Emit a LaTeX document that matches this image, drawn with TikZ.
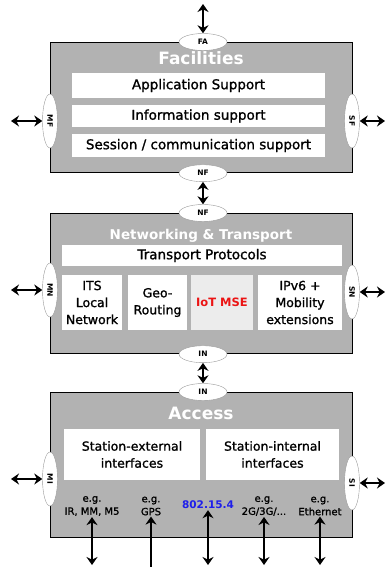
\documentclass[tikz,border=0pt]{standalone}
\usepackage{fontspec}
\setmainfont{DejaVu Sans}
\newfontfamily\boxfont{DejaVu Sans}[RawFeature={embolden=1.2}]
\usetikzlibrary{shapes.geometric, arrows.meta, positioning, calc}
\definecolor{layergray}{RGB}{178,178,178}
\definecolor{msegray}{RGB}{236,236,236}
\definecolor{iotred}{RGB}{235,20,20}
\definecolor{wpanblue}{RGB}{30,30,235}
\tikzset{
    layer/.style={draw=black, line width=1.2pt, fill=layergray, anchor=north west, minimum width=302pt},
    title/.style={text=white, font=\bfseries\fontsize{17}{17}\selectfont},
    sub/.style={fill=white, align=center, inner sep=0pt, font=\boxfont\fontsize{12.5}{17}\selectfont},
    sap/.style={ellipse, draw=black!40, thin, fill=white, inner sep=0pt, minimum width=48pt, minimum height=17pt, font=\bfseries\fontsize{7.5}{7.5}\selectfont},
    sapv/.style={sap, minimum width=15pt, minimum height=54pt},
    eglabel/.style={align=center, inner sep=1pt, font=\boxfont\fontsize{10}{13}\selectfont},
    biarr/.style={{Stealth[length=8pt, width=11pt]}-{Stealth[length=8pt, width=11pt]}, line width=2.3pt},
    uparr/.style={-{Stealth[length=8pt, width=11pt]}, line width=2.3pt}
}
\begin{document}
\begin{tikzpicture}[x=1pt, y=-1pt]
    \useasboundingbox (0,0) rectangle (385,567);

    % facilities layer
    \node[layer, minimum height=130pt] (fac) at (50,42) {};
    \node[title] (factitle) at (201,58) {Facilities};
    \node[sub, minimum width=253pt, minimum height=25pt, font=\boxfont\fontsize{13.5}{14}\selectfont] (appsup) at (198.5,85.5) {Application Support};
    \node[sub, minimum width=253pt, minimum height=22pt, font=\boxfont\fontsize{13.5}{14}\selectfont] (infosup) at (198.5,116) {Information support};
    \node[sub, minimum width=253pt, minimum height=23pt, font=\boxfont\fontsize{13.5}{14}\selectfont] (sessup) at (198.5,145.5) {Session / communication support};

    % networking & transport layer
    \node[layer, minimum height=140pt] (net) at (50,213) {};
    \node[title, font=\bfseries\fontsize{13.5}{13.5}\selectfont] (nettitle) at (201,236) {Networking \& Transport};
    \node[sub, minimum width=280pt, minimum height=21pt, font=\boxfont\fontsize{13.5}{14}\selectfont] (transp) at (202,255.5) {Transport Protocols};
    \node[sub, minimum width=60pt, minimum height=55pt] (itsnet) at (92,302.5) {ITS\\Local\\Network};
    \node[sub, minimum width=59pt, minimum height=55pt] (georout) at (157.5,302.5) {Geo-\\Routing};
    \node[sub, fill=msegray, minimum width=62pt, minimum height=55pt, text=iotred, font=\bfseries\fontsize{11.5}{12}\selectfont] (iotmse) at (222,302.5) {IoT MSE};
    \node[sub, minimum width=84pt, minimum height=55pt] (ipv6) at (300,302.5) {IPv6 +\\Mobility\\extensions};

    % access layer
    \node[layer, minimum height=145pt] (acc) at (50,392) {};
    \node[title] (acctitle) at (201,413) {Access};
    \node[sub, minimum width=136pt, minimum height=51pt] (statext) at (132,454.5) {Station-external\\interfaces};
    \node[sub, minimum width=133pt, minimum height=51pt] (statint) at (272.5,454.5) {Station-internal\\interfaces};
    \node[eglabel] (egir) at (92,506) {e.g.\\IR, MM, M5};
    \node[eglabel] (eggps) at (151,506) {e.g.\\GPS};
    \node[eglabel, text=wpanblue, font=\bfseries\fontsize{10.5}{11}\selectfont] (wpan) at (208,505) {802.15.4};
    \node[eglabel] (egcell) at (264,506) {e.g.\\2G/3G/...};
    \node[eglabel] (egeth) at (320,506) {e.g.\\Ethernet};

    % access points between the layers and at the sides
    \node[sap] (fa) at (fac.north -| 203,0) {FA};
    \node[sap] (nfup) at (fac.south -| 203,0) {NF};
    \node[sap] (nfdown) at (net.north -| 203,0) {NF};
    \node[sap] (inup) at (net.south -| 203,0) {IN};
    \node[sap] (indown) at (acc.north -| 203,0) {IN};
    \node[sapv] (mf) at (50,121) {\rotatebox{-90}{MF}};
    \node[sapv] (sf) at (352,121) {\rotatebox{-90}{SF}};
    \node[sapv] (mn) at (50,290) {\rotatebox{-90}{MN}};
    \node[sapv] (sn) at (352,292) {\rotatebox{-90}{SN}};
    \node[sapv] (mi) at (50,479) {\rotatebox{-90}{MI}};
    \node[sapv] (si) at (352,483) {\rotatebox{-90}{SI}};

    % loose ends
    \coordinate (faend) at (203,4);
    \coordinate (mfend) at (11,121);
    \coordinate (sfend) at (385,121);
    \coordinate (mnend) at (11,290);
    \coordinate (snend) at (385,292);
    \coordinate (miend) at (11,479);
    \coordinate (siend) at (385,483);
    \coordinate (irend) at (92,565);
    \coordinate (gpsend) at (151,567);
    \coordinate (wpanend) at (208,565);
    \coordinate (cellend) at (264,565);
    \coordinate (ethend) at (320,565);

    % connectors
    \draw[biarr] (faend) -- (fa);
    \draw[biarr] (nfup) -- (nfdown);
    \draw[biarr] (inup) -- (indown);
    \draw[biarr] (mfend) -- (mf);
    \draw[biarr] (sfend) -- (sf);
    \draw[biarr] (mnend) -- (mn);
    \draw[biarr] (snend) -- (sn);
    \draw[biarr] (miend) -- (mi);
    \draw[biarr] (siend) -- (si);
    \draw[biarr] (egir) -- (irend);
    \draw[uparr] (gpsend) -- (eggps);
    \draw[biarr] (wpan) -- (wpanend);
    \draw[biarr] (egcell) -- (cellend);
    \draw[biarr] (egeth) -- (ethend);
\end{tikzpicture}
\end{document}
